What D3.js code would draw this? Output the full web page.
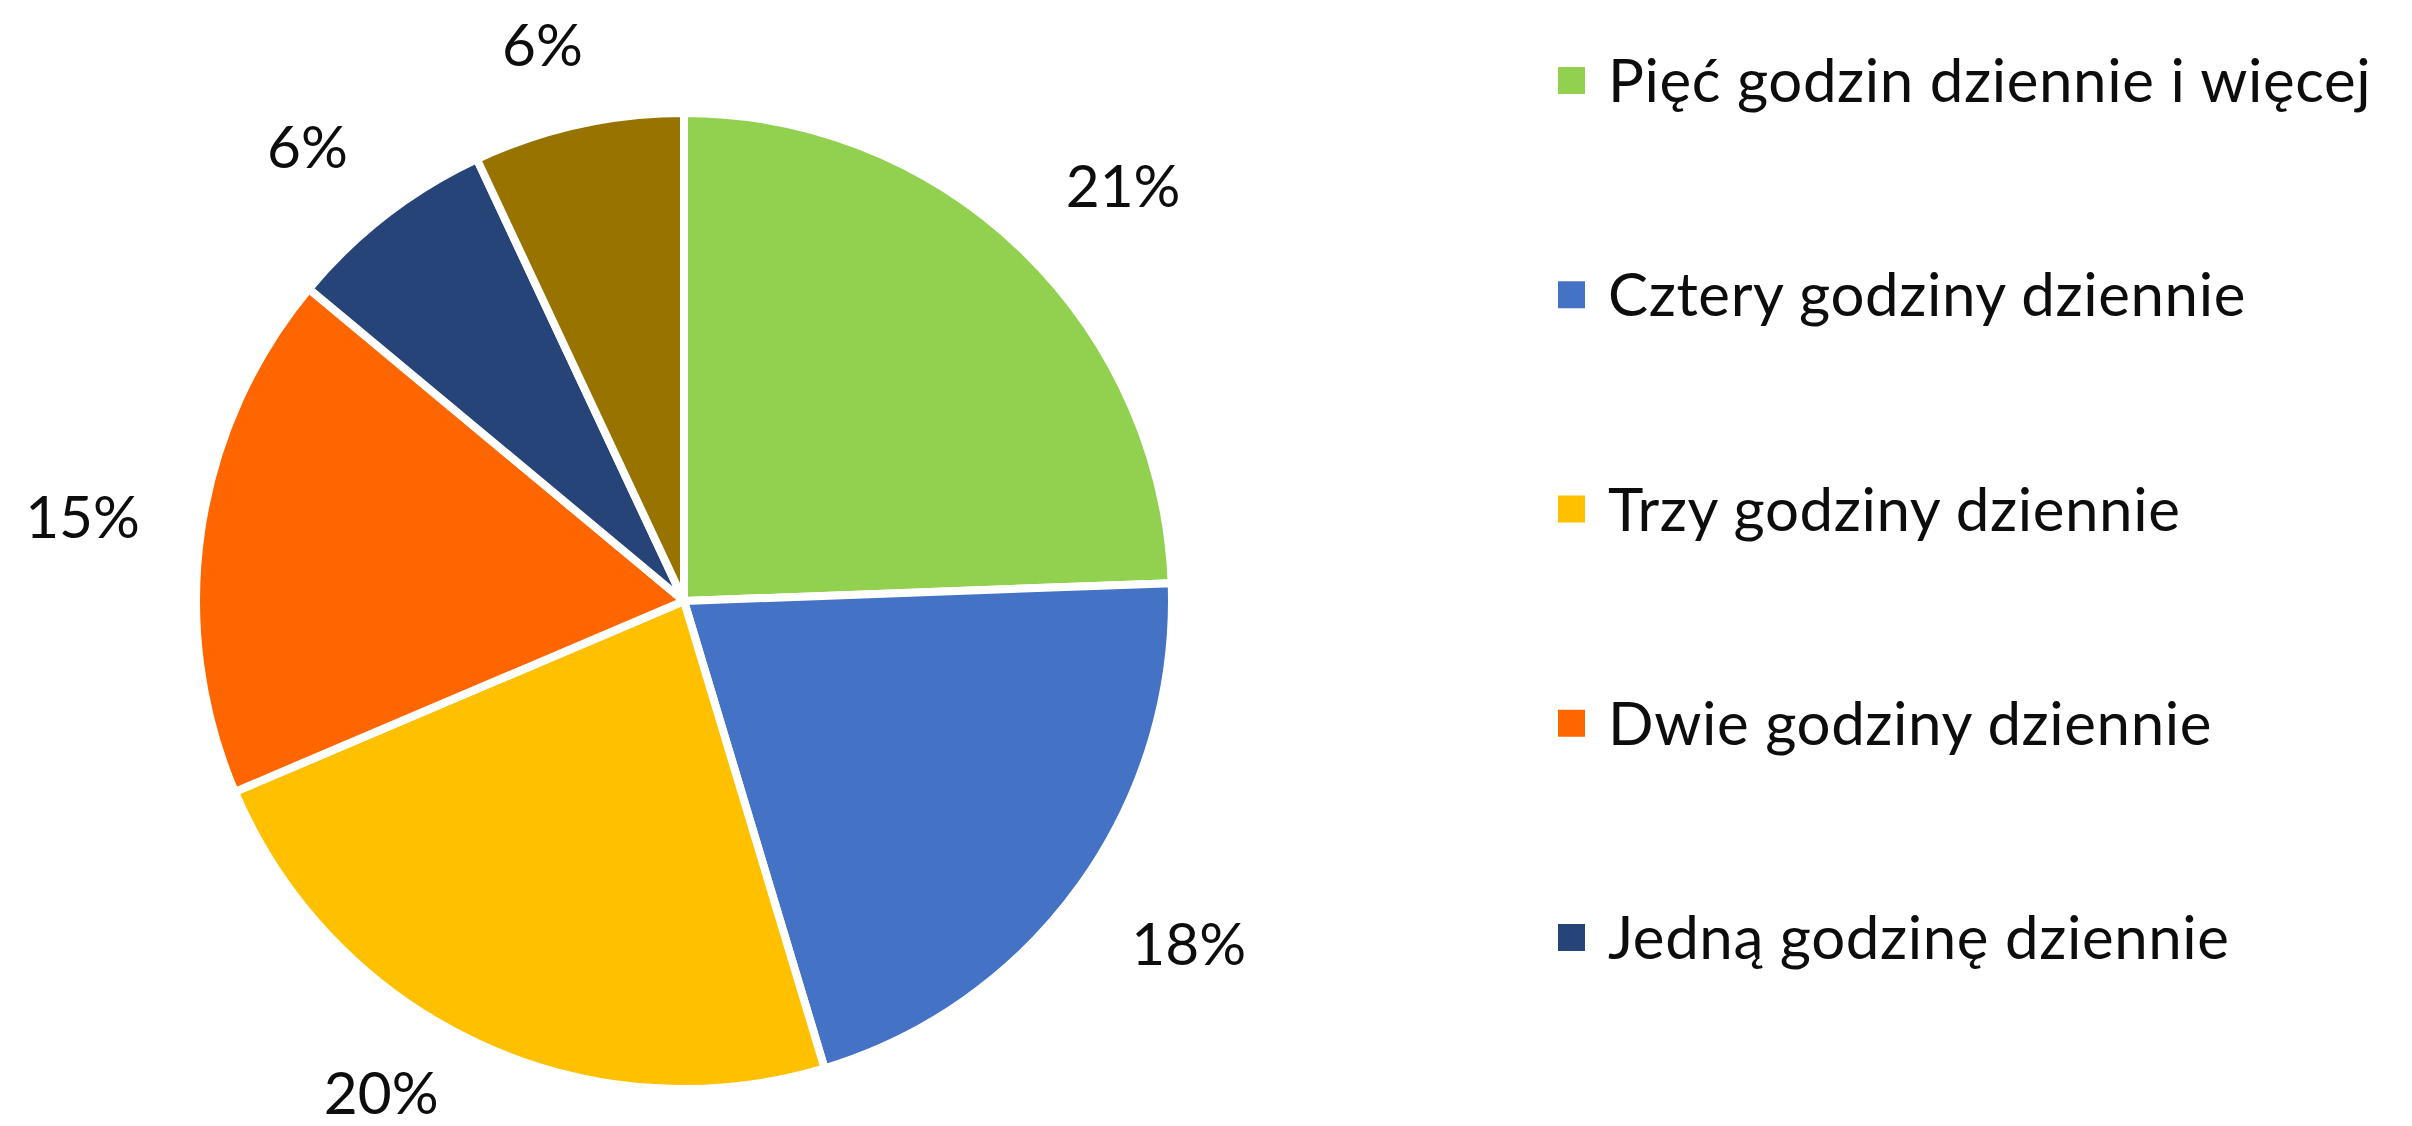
<!DOCTYPE html>
<html>
<head>
<meta charset="utf-8">
<script src="https://cdn.jsdelivr.net/npm/d3@7/dist/d3.min.js"></script>
<style>
  html, body { margin: 0; padding: 0; background: #fff; }
  svg { display: block; }
  text { font-family: Lato, "Open Sans", sans-serif; fill: #0d0d0d; }
</style>
</head>
<body>
<svg id="chart" width="2412" height="1126"></svg>
<script>
// ---- data ----
const legendLabels = [
  "Pięć godzin dziennie i więcej",
  "Cztery godziny dziennie",
  "Trzy godziny dziennie",
  "Dwie godziny dziennie",
  "Jedną godzinę dziennie"
];
const values = [21, 18, 20, 15, 6, 6];
const colors = ["#92D050", "#4472C4", "#FFC000", "#FF6600", "#264478", "#997300"];

// ---- layout ----
const W = 2412, H = 1126;
const cx = 684, cy = 601, R = 488;
const fontSize = 58.5;

const svg = d3.select("#chart");
const g = svg.append("g").attr("transform", `translate(${cx},${cy})`);

const pie = d3.pie().sort(null).value(d => d);
const arcs = pie(values);
const arc = d3.arc().innerRadius(0).outerRadius(R);

g.selectAll("path.slice")
  .data(arcs)
  .join("path")
  .attr("class", "slice")
  .attr("d", arc)
  .attr("fill", (d, i) => colors[i])
  .attr("stroke", "#fff")
  .attr("stroke-width", 8)
  .attr("stroke-linejoin", "round");

// labels: outside end, box corner nearest the pie touches an anchor ring
const anchorR = 550;
const fmt = v => v + "%";
const labels = g.selectAll("text.lbl")
  .data(arcs)
  .join("text")
  .attr("class", "lbl")
  .attr("font-size", fontSize)
  .attr("text-anchor", "middle")
  .attr("dominant-baseline", "central")
  .text(d => fmt(d.data));

labels.each(function(d) {
  const bb = this.getBBox();
  const hw = bb.width / 2, hh = fontSize * 0.36;
  const a = (d.startAngle + d.endAngle) / 2;
  const ux = Math.sin(a), uy = -Math.cos(a);
  const sx = Math.max(-1, Math.min(1, ux * 2.5));
  const sy = Math.max(-1, Math.min(1, uy * 2));
  let x = anchorR * ux + hw * sx - (ux < 0 && uy > 0 ? 12 : 0);
  let y = anchorR * uy + hh * sy;
  // keep inside chart area
  y = Math.min(y, H - cy - hh - 14);
  y = Math.max(y, -cy + hh + 2);
  x = Math.max(x, -cx + hw + 2);
  d3.select(this).attr("x", x).attr("y", y);
});

// legend
const legendY = d3.scalePoint().domain(d3.range(legendLabels.length)).range([80, 937]);
const lg = svg.append("g");
const items = lg.selectAll("g.item")
  .data(legendLabels)
  .join("g")
  .attr("class", "item")
  .attr("transform", (d, i) => `translate(0,${legendY(i)})`);

items.append("rect")
  .attr("x", 1558).attr("y", -13)
  .attr("width", 27).attr("height", 27)
  .attr("fill", (d, i) => colors[i]);

items.append("text")
  .attr("font-size", 60)
  .attr("letter-spacing", 0.6)
  .attr("x", 1608)
  .attr("y", 22)
  .text(d => d);
</script>
</body>
</html>
